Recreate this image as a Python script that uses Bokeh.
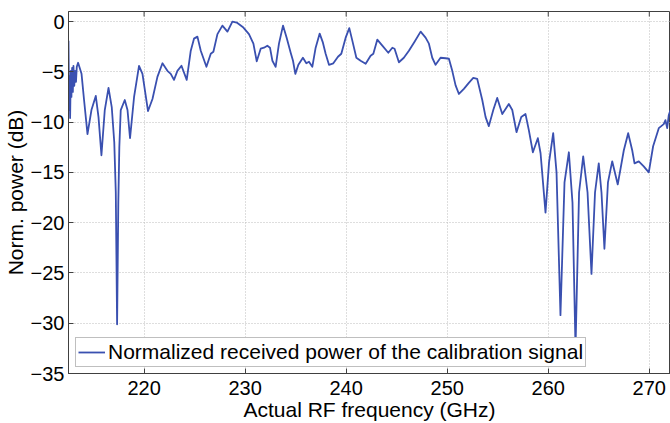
from bokeh.plotting import figure
from bokeh.models import Legend, LegendItem, FixedTicker, Range1d
from bokeh.embed import file_html
from bokeh.resources import INLINE

freq_ghz = [212.52, 212.58, 212.63, 212.68, 212.75, 212.81, 212.88, 212.95, 213.01, 213.09,
            213.17, 213.26, 213.34, 213.47, 213.81, 214.06, 214.40, 214.79, 215.22, 215.49,
            215.78, 216.11, 216.48, 216.80, 217.05, 217.20, 217.33, 217.45, 217.55, 217.69,
            218.09, 218.36, 218.61, 219.01, 219.50, 219.84, 220.39, 220.83, 221.32, 221.82,
            222.31, 222.64, 222.96, 223.30, 223.70, 224.22, 224.62, 224.94, 225.28, 225.61,
            226.17, 226.60, 226.86, 227.26, 227.75, 228.25, 228.74, 229.17, 229.83, 230.38,
            230.82, 231.15, 231.54, 231.87, 232.20, 232.46, 232.70, 233.02, 233.35, 233.75,
            234.11, 234.51, 234.74, 234.97, 235.27, 235.72, 236.06, 236.32, 236.65, 236.98,
            237.38, 237.70, 237.97, 238.30, 238.73, 239.19, 239.52, 239.95, 240.31, 240.61,
            241.01, 241.43, 241.93, 242.42, 242.69, 243.08, 243.58, 244.17, 244.57, 244.79,
            245.22, 245.71, 246.21, 246.77, 247.37, 247.86, 248.19, 248.52, 248.85, 249.34,
            249.84, 250.17, 250.50, 250.83, 251.16, 251.65, 252.14, 252.58, 252.97, 253.47,
            253.80, 254.12, 254.56, 254.95, 255.45, 256.10, 256.44, 256.86, 257.33, 257.75,
            258.08, 258.48, 258.97, 259.24, 259.73, 260.08, 260.49, 260.82, 261.21, 261.61,
            262.04, 262.40, 262.70, 263.05, 263.46, 263.89, 264.28, 264.63, 265.00, 265.27,
            265.56, 265.91, 266.33, 266.88, 267.48, 267.91, 268.31, 268.54, 268.96, 269.45,
            269.95, 270.38, 270.94, 271.43, 271.60, 271.77, 271.93, 272.10]

power_db = [-1.9, -8.8, -5.4, -9.6, -4.9, -7.5, -4.6, -7.0, -4.4, -6.4,
            -4.9, -6.0, -4.5, -4.1, -5.2, -7.8, -11.2, -8.8, -7.4, -9.5,
            -13.3, -8.8, -6.6, -8.5, -12.0, -17.0, -30.1, -18.0, -12.5, -8.8,
            -7.8, -8.8, -11.6, -7.5, -4.4, -5.2, -8.9, -7.7, -5.5, -4.15,
            -4.9, -5.2, -5.8, -4.9, -4.4, -5.8, -2.9, -1.7, -1.5, -2.9,
            -4.5, -3.2, -3.0, -1.25, -0.4, -1.0, 0.0, -0.1, -0.6, -1.25,
            -2.2, -3.95, -2.7, -2.6, -2.4, -2.6, -3.9, -4.5, -2.2, -0.4,
            -1.6, -3.1, -3.9, -5.2, -4.3, -3.6, -4.15, -4.0, -4.5, -2.6,
            -1.2, -2.1, -3.2, -4.3, -4.15, -3.5, -3.2, -1.6, -0.65, -1.9,
            -3.6, -3.9, -4.2, -3.4, -3.2, -1.8, -2.4, -3.1, -2.6, -2.7,
            -4.05, -3.6, -2.9, -2.0, -1.0, -1.6, -2.2, -3.6, -4.3, -3.6,
            -3.65, -3.7, -4.9, -6.35, -7.2, -6.7, -6.1, -5.6, -5.7, -7.8,
            -9.5, -10.4, -8.8, -7.6, -9.2, -8.2, -8.8, -11.0, -9.5, -9.2,
            -10.8, -13.0, -11.6, -13.1, -19.0, -14.0, -11.1, -15.0, -29.2, -16.0,
            -13.0, -18.0, -32.5, -17.0, -13.4, -17.0, -25.1, -17.0, -14.1, -17.0,
            -22.6, -16.0, -13.9, -16.2, -12.8, -11.1, -12.8, -14.1, -13.9, -14.4,
            -15.0, -12.4, -10.6, -10.2, -9.8, -10.6, -9.3, -8.8]

x_ticks = [220, 230, 240, 250, 260, 270]
y_ticks = [0, -5, -10, -15, -20, -25, -30, -35]
x_min, x_max = 212.52, 272.1
y_min, y_max = -35, 1

legend_label = "Normalized received power of the calibration signal"
x_label = "Actual RF frequency (GHz)"
y_label = "Norm. power (dB)"

FONT = "Liberation Sans"
AXIS_COLOR = "#404040"

p = figure(width=670, height=423, output_backend="svg", toolbar_location=None,
           x_range=Range1d(x_min, x_max), y_range=Range1d(y_min, y_max),
           min_border_left=68, min_border_right=0, min_border_top=11, min_border_bottom=40)

p.outline_line_color = AXIS_COLOR
p.outline_line_width = 1
p.background_fill_color = "white"
p.border_fill_color = "white"

for g in (p.xgrid[0], p.ygrid[0]):
    g.grid_line_color = "#bdbdbd"
    g.grid_line_dash = "1 2"
    g.grid_line_width = 1
p.xgrid[0].ticker = FixedTicker(ticks=x_ticks)
p.ygrid[0].ticker = FixedTicker(ticks=y_ticks)

r = p.line(freq_ghz, power_db, line_color="#3a50b0", line_width=1.8, line_join="round")

# inward tick marks along the top edge of the box
p.segment(x0=x_ticks, y0=[y_max] * len(x_ticks), x1=x_ticks, y1=[y_max - 0.5] * len(x_ticks),
          line_color=AXIS_COLOR, line_width=1)

for ax, ticks in ((p.xaxis[0], x_ticks), (p.yaxis[0], y_ticks)):
    ax.ticker = FixedTicker(ticks=ticks)
    ax.major_tick_in = 5
    ax.major_tick_out = 0
    ax.minor_tick_in = 0
    ax.minor_tick_out = 0
    ax.axis_line_color = AXIS_COLOR
    ax.major_tick_line_color = AXIS_COLOR
    ax.major_label_text_font = FONT
    ax.major_label_text_font_size = "20px"
    ax.major_label_text_color = "black"
    ax.axis_label_text_font = FONT
    ax.axis_label_text_font_style = "normal"
    ax.axis_label_text_color = "black"

p.xaxis[0].axis_label = x_label
p.xaxis[0].axis_label_text_font_size = "21px"
p.xaxis[0].major_label_standoff = 7
p.xaxis[0].axis_label_standoff = 0
p.yaxis[0].axis_label = y_label
p.yaxis[0].axis_label_text_font_size = "21px"
p.yaxis[0].major_label_standoff = 4
p.yaxis[0].axis_label_standoff = 1

legend = Legend(items=[LegendItem(label=legend_label, renderers=[r])],
                location=(7, 6), padding=2, margin=0, spacing=0,
                glyph_width=27, glyph_height=18, label_standoff=3,
                label_text_font=FONT, label_text_font_size="21px",
                label_text_color="black", border_line_color="#808080",
                border_line_width=1, background_fill_alpha=1)
p.add_layout(legend, "center")

open("out.html", "w").write(file_html(p, INLINE))
